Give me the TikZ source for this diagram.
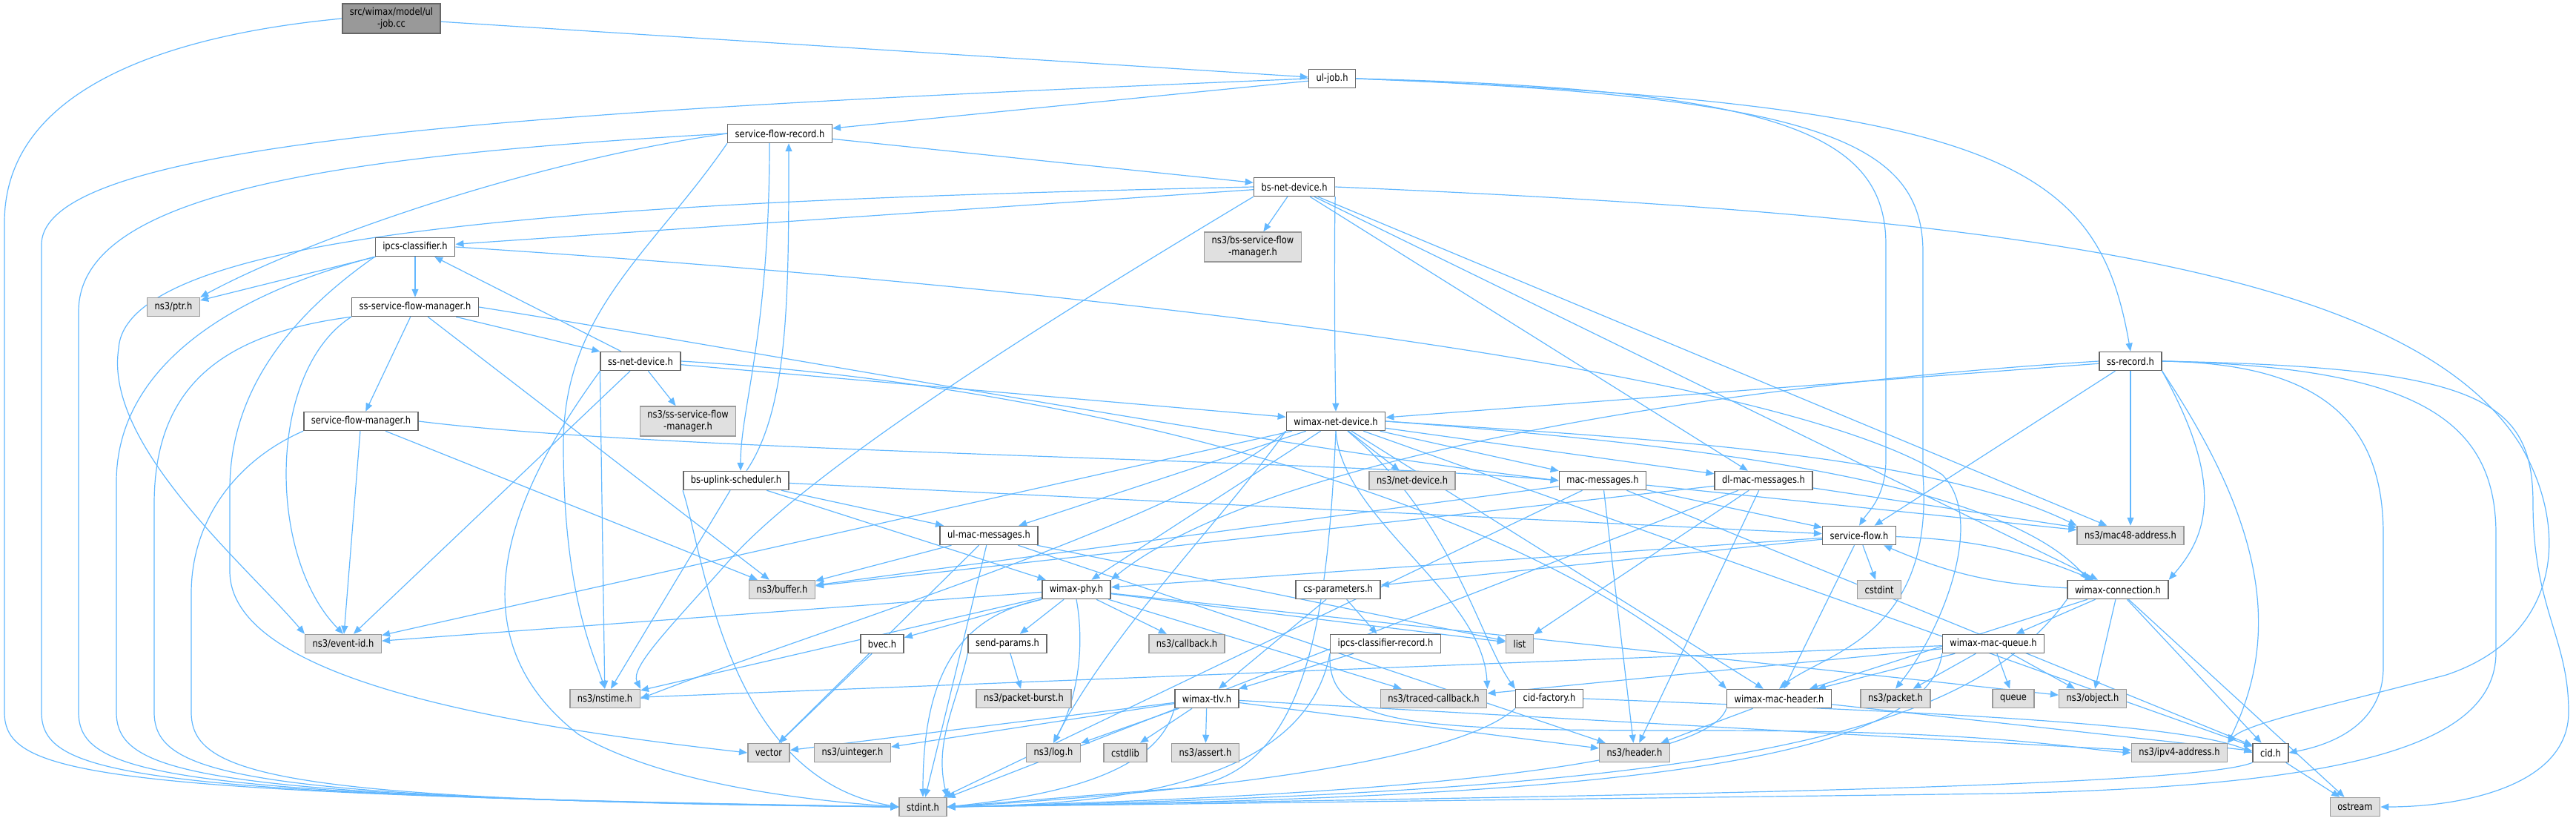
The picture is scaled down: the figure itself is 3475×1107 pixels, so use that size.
\documentclass[tikz,border=0pt]{standalone}
\usepackage{fontspec}
\setmainfont[FakeStretch=0.85]{DejaVu Sans}
\usetikzlibrary{arrows.meta}
\definecolor{edgeblue}{HTML}{63B8FF}
\definecolor{boxline}{HTML}{666666}
\definecolor{sysfill}{HTML}{E0E0E0}
\definecolor{sysline}{HTML}{999999}
\definecolor{rootfill}{HTML}{999999}
\pgfdeclarelayer{edges}
\pgfsetlayers{edges,main}

\begin{document}
\begin{tikzpicture}[x=1pt,y=-1pt,
    hdr/.style={draw=boxline,fill=white,line width=1.5pt,minimum height=25pt,inner xsep=10pt,inner ysep=2pt,align=center,font=\fontsize{13.5}{16}\selectfont},
    sys/.style={hdr,draw=sysline,fill=sysfill},
    root/.style={hdr,fill=rootfill},
    dep/.style={draw=edgeblue,line width=1.2pt,-{Triangle[length=11pt,width=9pt]}}]
\useasboundingbox (0,0) rectangle (3475,1107);

\node[root,minimum height=40pt] (ulcc) at (528,25) {src/wimax/model/ul\\-job.cc};
\node[hdr] (uljob) at (1797,106) {ul-job.h};
\node[hdr] (sfrecord) at (1052,180) {service-flow-record.h};
\node[hdr] (bsnet) at (1746,252) {bs-net-device.h};
\node[sys,minimum height=40pt] (bssfm) at (1690,333) {ns3/bs-service-flow\\-manager.h};
\node[hdr] (ipcs) at (560,333) {ipcs-classifier.h};
\node[sys] (ptr) at (234,414) {ns3/ptr.h};
\node[hdr] (sssfm) at (560,414) {ss-service-flow-manager.h};
\node[hdr] (ssnet) at (864,487) {ss-net-device.h};
\node[hdr] (ssrecord) at (2874,487) {ss-record.h};
\node[hdr] (sfmanager) at (487,568) {service-flow-manager.h};
\node[sys,minimum height=40pt] (nssssfm) at (928,568) {ns3/ss-service-flow\\-manager.h};
\node[hdr] (wimaxnet) at (1802,568) {wimax-net-device.h};
\node[hdr] (bsupsched) at (993,648) {bs-uplink-scheduler.h};
\node[sys] (netdev) at (1905,648) {ns3/net-device.h};
\node[hdr] (macmsg) at (2162,648) {mac-messages.h};
\node[hdr] (dlmac) at (2379,648) {dl-mac-messages.h};
\node[hdr] (ulmac) at (1334,722) {ul-mac-messages.h};
\node[hdr] (sflow) at (2508,722) {service-flow.h};
\node[sys] (mac48) at (2874,722) {ns3/mac48-address.h};
\node[sys] (buffer) at (1055,795) {ns3/buffer.h};
\node[hdr] (wimaxphy) at (1452,795) {wimax-phy.h};
\node[hdr] (csparam) at (1805,795) {cs-parameters.h};
\node[sys] (cstdint) at (2535,795) {cstdint};
\node[hdr] (wconn) at (2857,795) {wimax-connection.h};
\node[sys] (eventid) at (463,868) {ns3/event-id.h};
\node[hdr] (bvec) at (1190,868) {bvec.h};
\node[hdr] (sendparams) at (1359,868) {send-params.h};
\node[sys] (callback) at (1601,868) {ns3/callback.h};
\node[hdr] (ipcsrec) at (1869,868) {ipcs-classifier-record.h};
\node[sys] (list) at (2050,868) {list};
\node[hdr] (macqueue) at (2689,868) {wimax-mac-queue.h};
\node[sys] (nstime) at (816,942) {ns3/nstime.h};
\node[sys] (pktburst) at (1381,942) {ns3/packet-burst.h};
\node[hdr] (wimaxtlv) at (1628,942) {wimax-tlv.h};
\node[sys] (tracedcb) at (1934,942) {ns3/traced-callback.h};
\node[hdr] (cidfactory) at (2090,942) {cid-factory.h};
\node[hdr] (macheader) at (2400,942) {wimax-mac-header.h};
\node[sys] (packet) at (2557,942) {ns3/packet.h};
\node[sys] (queue) at (2716,942) {queue};
\node[sys] (object) at (2823,942) {ns3/object.h};
\node[sys] (vector) at (1037,1015) {vector};
\node[sys] (uinteger) at (1150,1015) {ns3/uinteger.h};
\node[sys] (log) at (1421,1015) {ns3/log.h};
\node[sys] (cstdlib) at (1518,1015) {cstdlib};
\node[sys] (assert) at (1626,1015) {ns3/assert.h};
\node[sys] (header) at (2205,1015) {ns3/header.h};
\node[sys] (ipv4) at (2940,1015) {ns3/ipv4-address.h};
\node[hdr] (cid) at (3063,1015) {cid.h};
\node[sys] (stdint) at (1245,1088) {stdint.h};
\node[sys] (ostream) at (3177,1088) {ostream};

\begin{pgfonlayer}{edges}
% long ways round the left side into stdint.h
\draw[dep] (ulcc.west) .. controls (250,45) and (6,110) .. (6,300) -- (6,960) .. controls (6,1045) and (120,1070) .. (stdint.west);
\draw[dep] (uljob.west) .. controls (700,150) and (56,190) .. (56,330) -- (56,960) .. controls (56,1045) and (170,1072) .. (stdint.west);
\draw[dep] (sfrecord.west) .. controls (450,210) and (106,260) .. (106,420) -- (106,960) .. controls (106,1045) and (220,1074) .. (stdint.west);
\draw[dep] (ipcs.south west) .. controls (300,400) and (157,500) .. (157,650) -- (157,960) .. controls (157,1045) and (270,1076) .. (stdint.west);
\draw[dep] (sssfm.south west) .. controls (300,450) and (208,520) .. (208,680) -- (208,960) .. controls (208,1045) and (320,1078) .. (stdint.west);
\draw[dep] (sfmanager.south west) .. controls (320,620) and (258,700) .. (258,800) -- (258,960) .. controls (258,1045) and (370,1080) .. (stdint.west);

\draw[dep] (ulcc) -- (uljob);
\draw[dep] (uljob) -- (sfrecord);
\draw[dep] (uljob.east) .. controls (2700,140) and (2830,220) .. (ssrecord.north);
\draw[dep] (uljob.east) .. controls (2400,120) and (2544,180) .. (2544,330) -- (2544,620) .. controls (2544,670) and (2520,690) .. (sflow.north);
\draw[dep] (uljob.east) .. controls (2450,130) and (2594,190) .. (2594,340) -- (2594,640) .. controls (2610,860) and (2460,880) .. (macheader.north);

\draw[dep] (sfrecord) -- (bsnet);
\draw[dep] (sfrecord.west) .. controls (700,220) and (400,330) .. (ptr.north east);
\draw[dep] (sfrecord.south west) .. controls (880,340) and (760,420) .. (760,600) .. controls (760,800) and (800,880) .. (nstime.north);
\draw[dep] ([xshift=-14pt]sfrecord.south) .. controls (1038,450) and (999,550) .. ([xshift=6pt]bsupsched.north);
\draw[dep] ([xshift=14pt]bsupsched.north) .. controls (1064,550) and (1064,400) .. ([xshift=12pt]sfrecord.south);

\foreach \t in {sflow,ulmac,wimaxphy,nstime}
  \draw[dep] (bsupsched) -- (\t);
\draw[dep] (bsupsched.south west) .. controls (950,750) and (980,1050) .. (stdint.west);

\foreach \t in {ipcs,bssfm,dlmac,mac48,wconn}
  \draw[dep] (bsnet) -- (\t);
\draw[dep] (bsnet.south east) .. controls (1800,300) and (1800,450) .. (wimaxnet.north);
\draw[dep] (bsnet.west) .. controls (900,270) and (170,300) .. (160,470) .. controls (140,600) and (330,760) .. (eventid.north west);
\draw[dep] (bsnet.south west) .. controls (1500,380) and (1100,620) .. (980,760) .. controls (900,850) and (850,900) .. (nstime.north east);
\draw[dep] (bsnet.east) .. controls (2700,290) and (3250,360) .. (3400,600) .. controls (3470,720) and (3450,860) .. (3300,910) .. controls (3150,950) and (3030,975) .. (ipv4.north east);

\foreach \t in {ptr,sssfm}
  \draw[dep] (ipcs) -- (\t);
\draw[dep] (ipcs.south west) .. controls (400,420) and (310,520) .. (310,660) -- (310,770) .. controls (310,920) and (700,980) .. (vector.west);
\draw[dep] (ipcs.east) .. controls (1500,390) and (2400,500) .. (2620,640) .. controls (2680,700) and (2620,850) .. (packet.north);

\foreach \t in {sfmanager,ssnet,buffer}
  \draw[dep] (sssfm) -- (\t);
\draw[dep] (sssfm.south west) .. controls (360,500) and (360,750) .. (eventid.north);
\draw[dep] (sssfm.east) .. controls (1000,470) and (1700,600) .. (macmsg.west);

\foreach \t in {ipcs,nssssfm,wimaxnet,eventid}
  \draw[dep] (ssnet) -- (\t);
\draw[dep] (ssnet.south west) -- (nstime);
\draw[dep] (ssnet.south west) .. controls (700,650) and (600,850) .. (780,990) .. controls (900,1060) and (1100,1080) .. (stdint.west);
\draw[dep] (ssnet.east) .. controls (1500,520) and (2100,700) .. (macheader.north west);

\foreach \t in {buffer,eventid}
  \draw[dep] (sfmanager) -- (\t);
\draw[dep] (sfmanager.east) .. controls (900,610) and (1800,620) .. (macmsg.west);

\foreach \t in {eventid,netdev,macmsg,dlmac,ulmac,wimaxphy,macheader,cid}
  \draw[dep] (wimaxnet) -- (\t);
\draw[dep] (wimaxnet.south west) .. controls (1600,700) and (1100,850) .. (nstime.east);
\draw[dep] (wimaxnet.south) .. controls (1790,850) and (1760,1040) .. (1600,1062) -- (stdint.east);
\draw[dep] (wimaxnet.east) .. controls (2300,600) and (2700,650) .. ([xshift=-40pt]wconn.north);
\draw[dep] (wimaxnet.east) .. controls (2200,590) and (2600,610) .. (mac48.north west);
\draw[dep] (wimaxnet) .. controls (1960,700) and (1995,860) .. (cidfactory.north west);
\draw[dep] (wimaxnet.south) .. controls (1810,700) and (2000,800) .. (tracedcb.north east);
\draw[dep] (wimaxnet.south west) .. controls (1650,700) and (1500,850) .. (log.north);

\foreach \t in {cid,sflow,header,buffer,mac48,stdint}
  \draw[dep] (macmsg) -- (\t);
\foreach \t in {buffer,header,list,stdint,mac48}
  \draw[dep] (dlmac) -- (\t);
\foreach \t in {buffer,stdint,vector,list,header}
  \draw[dep] (ulmac) -- (\t);

\foreach \t in {wimaxphy,csparam,cstdint,macheader}
  \draw[dep] (sflow) -- (\t);
\draw[dep] (sflow) to[bend left=10] (wconn);
\draw[dep] (wconn) to[bend left=10] (sflow);

\foreach \t in {macqueue,object,cid,ostream,macheader}
  \draw[dep] (wconn) -- (\t);
\draw[dep] (wconn.south west) .. controls (2650,1000) and (2300,1068) .. (stdint.east);

\foreach \t in {queue,object,packet,macheader,nstime,tracedcb}
  \draw[dep] (macqueue) -- (\t);
\draw[dep] (macqueue.south west) .. controls (2600,1050) and (2000,1078) .. (stdint.east);

\foreach \t in {bvec,sendparams,callback,eventid,nstime,object,list,tracedcb}
  \draw[dep] (wimaxphy) -- (\t);
\draw[dep] (wimaxphy.south) .. controls (1465,880) and (1450,950) .. (log.north);
\draw[dep] (wimaxphy.south west) .. controls (1300,830) and (1245,900) .. (stdint.north);

\draw[dep] (bvec) -- (vector);
\draw[dep] (sendparams) -- (pktburst);
\draw[dep] (sendparams.south west) .. controls (1290,950) and (1260,1000) .. (stdint.north east);

\foreach \t in {ipcsrec,wimaxtlv}
  \draw[dep] (csparam) -- (\t);
\draw[dep] (ipcsrec) -- (wimaxtlv);
\draw[dep] (ipcsrec.south west) .. controls (1790,980) and (1900,985) .. (2300,985) .. controls (2700,985) and (2800,1010) .. (ipv4.west);
\draw[dep] (ipcsrec.south west) .. controls (1760,1060) and (1500,1085) .. (stdint.east);

\foreach \t in {vector,uinteger,log,cstdlib,assert,header,ipv4}
  \draw[dep] (wimaxtlv) -- (\t);
\draw[dep] (wimaxtlv.south west) .. controls (1560,1050) and (1400,1075) .. (stdint.east);

\draw[dep] (cidfactory.east) .. controls (2600,960) and (2950,975) .. (cid.west);
\draw[dep] (cidfactory.south west) .. controls (1950,1040) and (1500,1075) .. (stdint.east);
\draw[dep] (macheader) -- (header);
\draw[dep] (macheader) -- (cid);
\draw[dep] (macheader.south west) .. controls (2300,1040) and (1800,1075) .. (stdint.east);
\draw[dep] (cid) -- (ostream);
\draw[dep] (cid.south west) .. controls (2950,1065) and (2000,1075) .. (stdint.east);

\foreach \t in {wimaxnet,sflow,mac48}
  \draw[dep] (ssrecord) -- (\t);
\draw[dep] (ssrecord.west) .. controls (2300,520) and (1700,620) .. (wimaxphy.north east);
\draw[dep] (ssrecord.south east) .. controls (3000,650) and (2980,720) .. (wconn.north east);
\draw[dep] (ssrecord.south east) .. controls (3050,700) and (3080,850) .. (ipv4.north east);
\draw[dep] (ssrecord.east) .. controls (3120,490) and (3215,560) .. (3215,720) -- (3215,900) .. controls (3215,980) and (3140,1005) .. (cid.east);
\draw[dep] (ssrecord.east) .. controls (3250,495) and (3367,560) .. (3367,720) -- (3367,880) .. controls (3367,1010) and (3150,1060) .. (2700,1070) -- (stdint.east);
\draw[dep] (ssrecord.east) .. controls (3350,495) and (3417,540) .. (3417,680) .. controls (3417,820) and (3465,860) .. (3465,960) .. controls (3465,1060) and (3320,1088) .. (ostream.east);
\end{pgfonlayer}
\end{tikzpicture}
\end{document}
